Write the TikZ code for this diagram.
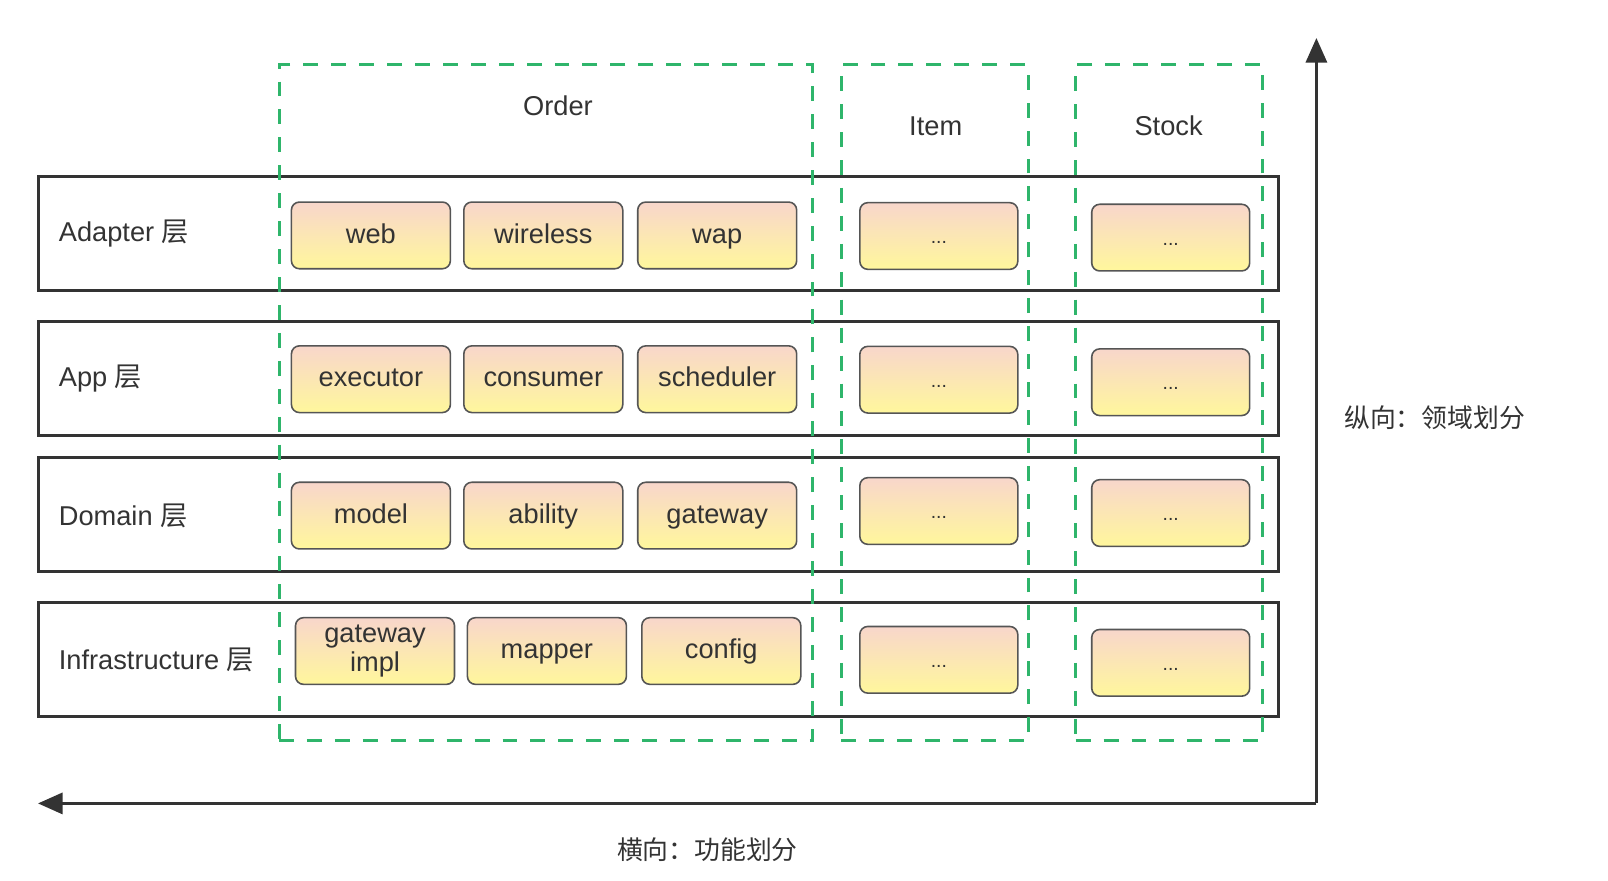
\documentclass[tikz,border=0pt]{standalone}
\usepackage{fontspec}
\setmainfont{Liberation Sans}
\newfontfamily\cjk{Noto Sans CJK SC}
\usetikzlibrary{arrows.meta}
\definecolor{txt}{HTML}{333333}
\definecolor{edge}{HTML}{333333}
\definecolor{cedge}{HTML}{555555}
\definecolor{domgreen}{HTML}{2FB56B}
\definecolor{ctop}{HTML}{F8D6CB}
\definecolor{cbot}{HTML}{FFF79C}
\tikzset{
  base/.style={text=txt, font=\fontsize{15.5}{18}\selectfont},
  layerbox/.style={draw=edge, line width=1.7pt, minimum width=24.81cm, minimum height=2.28cm, inner sep=0pt},
  layerlabel/.style={base, anchor=west, inner sep=0pt},
  comp/.style={base, draw=cedge, line width=0.9pt, rounded corners=0.16cm, top color=ctop, bottom color=cbot, minimum width=3.18cm, minimum height=1.334cm, inner sep=0pt, text height=2ex, text depth=0.35ex},
  comptwo/.style={base, draw=cedge, line width=0.9pt, rounded corners=0.16cm, top color=ctop, bottom color=cbot, minimum width=3.18cm, minimum height=1.334cm, inner sep=0pt, align=center},
  dots/.style={comp, minimum width=3.16cm, font=\fontsize{11}{13}\selectfont},
  domainbox/.style={draw=domgreen, line width=1.7pt, dash pattern=on 8.5pt off 7.4pt, minimum width=3.74cm, minimum height=13.524cm, inner sep=0pt},
  domlabel/.style={base},
  axis/.style={draw=edge, line width=1.7pt, -{Triangle[width=12pt,length=14pt]}},
  axislabel/.style={base, text=txt, font=\cjk\fontsize{14.7}{17}\selectfont}
}
\begin{document}
\begin{tikzpicture}[x=0.02cm, y=-0.02cm]
\useasboundingbox[fill=white] (0,0) rectangle (1608,880);
% layer boxes
\node[layerbox] (Ladapter) at (658.2,233.5) {};
\node[layerbox] (Lapp) at (658.2,378.5) {};
\node[layerbox] (Ldomain) at (658.2,514.5) {};
\node[layerbox] (Linfra) at (658.2,659.7) {};
\node[layerlabel] (tadapter) at (58.5,234) {Adapter {\cjk 层}};
\node[layerlabel] (tapp) at (58.5,378.6) {App {\cjk 层}};
\node[layerlabel] (tdomain) at (58.5,516) {Domain {\cjk 层}};
\node[layerlabel] (tinfra) at (58.5,659.7) {Infrastructure {\cjk 层}};
% Order components
\node[comp] (web) at (370.9,235.4) {web};
\node[comp] (wireless) at (543.3,235.4) {wireless};
\node[comp] (wap) at (717.2,235.4) {wap};
\node[comp] (executor) at (370.9,379.2) {executor};
\node[comp] (consumer) at (543.3,379.2) {consumer};
\node[comp] (scheduler) at (717.2,379.2) {scheduler};
\node[comp] (model) at (370.9,515.6) {model};
\node[comp] (ability) at (543.3,515.6) {ability};
\node[comp] (gateway) at (717.2,515.6) {gateway};
\node[comptwo] (gwimpl) at (375,651) {gateway\\[-1pt]impl};
\node[comp] (mapper) at (546.9,651) {mapper};
\node[comp] (config) at (721.3,651) {config};
% Item components
\node[dots] (i1) at (938.8,236) {...};
\node[dots] (i2) at (938.8,379.7) {...};
\node[dots] (i3) at (938.8,511) {...};
\node[dots] (i4) at (938.8,659.8) {...};
% Stock components
\node[dots] (s1) at (1170.7,237.6) {...};
\node[dots] (s2) at (1170.7,382.2) {...};
\node[dots] (s3) at (1170.7,513) {...};
\node[dots] (s4) at (1170.7,662.8) {...};
% domain boxes
\node[domainbox, minimum width=10.672cm] (Dorder) at (545.8,402.7) {};
\node[domainbox] (Ditem) at (934.65,402.7) {};
\node[domainbox] (Dstock) at (1169.1,402.7) {};
\node[domlabel] (torder) at (558,106) {Order};
\node[domlabel] (titem) at (935.7,126.2) {Item};
\node[domlabel] (tstock) at (1168.6,126.2) {Stock};
% axes
\coordinate (corner) at (1316.4,803.4);
\coordinate (top) at (1316.4,38);
\coordinate (left) at (38,803.4);
\draw[axis] (corner) -- (top);
\draw[axis] (corner) -- (left);
\node[axislabel, anchor=west] (vlabel) at (1338,417.6) {纵向：领域划分};
\node[axislabel] (hlabel) at (707.4,849.5) {横向：功能划分};
\end{tikzpicture}
\end{document}
